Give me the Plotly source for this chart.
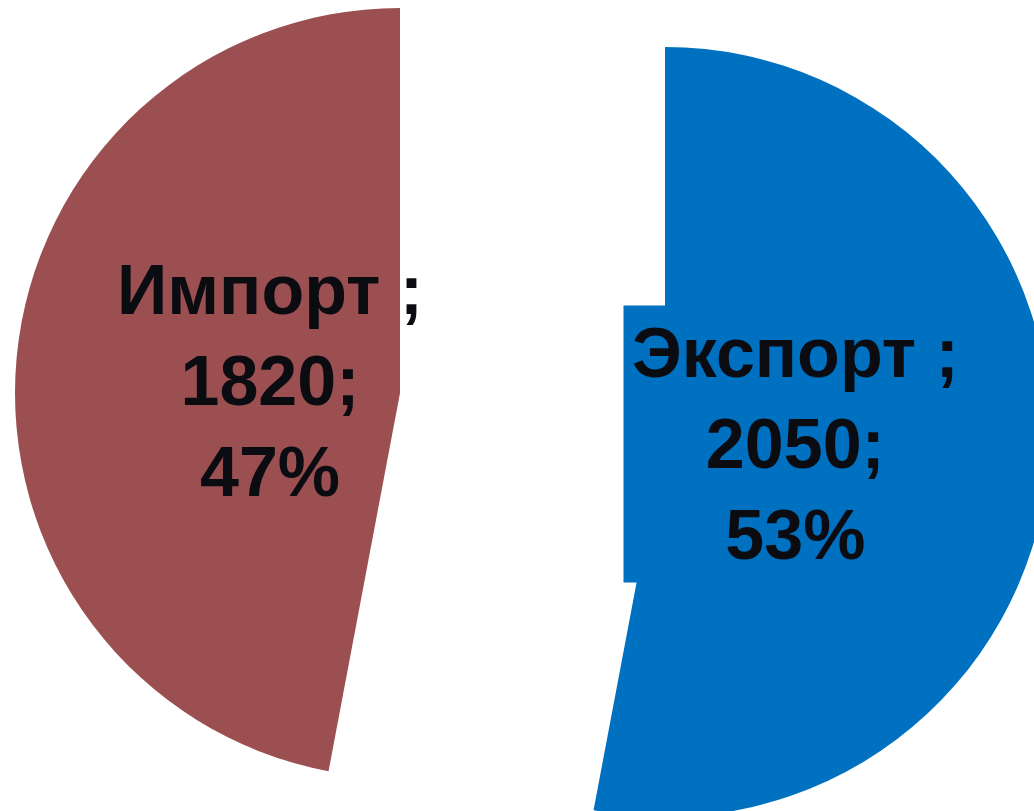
import math
import plotly.graph_objects as go

labels = ["Экспорт", "Импорт"]
values = [2050, 1820]
colors = ["#0070C0", "#9B4F50"]

# figure is larger than the window so the right/bottom get cropped like the reference
W, H = 1100, 840
R = 385
# exploded slice centres in window pixels, one per slice
centres = [(665, 432), (400, 393)]

total = sum(values)
pcts = [round(100 * v / total) for v in values]

fig = go.Figure()
annotations = []
start = 0.0
for i, (label, val) in enumerate(zip(labels, values)):
    cx, cy = centres[i]
    slice_colors = ["rgba(0,0,0,0)"] * len(values)
    slice_colors[i] = colors[i]
    fig.add_trace(
        go.Pie(
            labels=labels,
            values=values,
            sort=False,
            direction="clockwise",
            rotation=0,
            marker=dict(colors=slice_colors, line=dict(width=0)),
            textinfo="none",
            hoverinfo="label+value+percent",
            showlegend=False,
            domain=dict(
                x=[(cx - R) / W, (cx + R) / W],
                y=[1 - (cy + R) / H, 1 - (cy - R) / H],
            ),
        )
    )
    # label sits on the slice bisector
    span = 360.0 * val / total
    mid = math.radians(start + span / 2)
    start += span
    lx = cx + 0.34 * R * math.sin(mid)
    ly = cy - 0.34 * R * math.cos(mid)
    annotations.append(
        dict(
            x=lx / W,
            y=1 - ly / H,
            xref="paper",
            yref="paper",
            xanchor="center",
            yanchor="middle",
            text=f"{label} ;<br>{val};<br>{pcts[i]}%",
            showarrow=False,
            align="center",
            font=dict(family="Liberation Sans, Arial", size=70, color="#0b0b12", weight="bold"),
            bgcolor=colors[i] if i == 0 else "rgba(0,0,0,0)",
            borderpad=8,
        )
    )

fig.update_layout(
    width=W,
    height=H,
    margin=dict(l=0, r=0, t=0, b=0),
    paper_bgcolor="white",
    plot_bgcolor="white",
    annotations=annotations,
)

# drop the default page margin and scrollbars so the figure is cropped at the window edge
fig.write_html(
    "out.html",
    post_script="document.body.style.margin = '0'; document.body.style.overflow = 'hidden';",
)
